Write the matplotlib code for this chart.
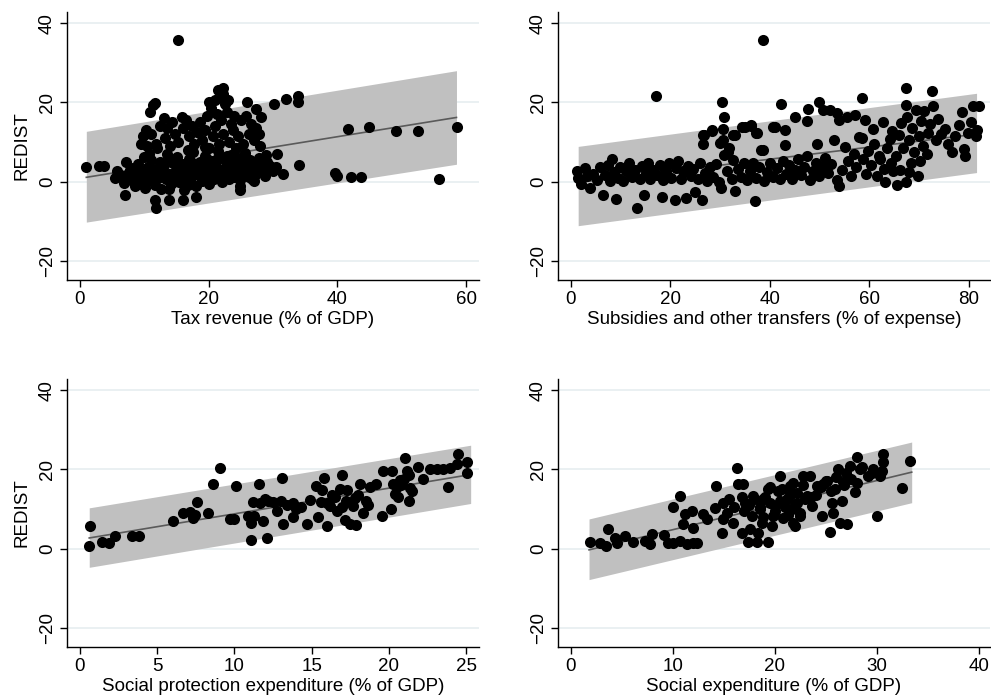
import matplotlib
matplotlib.use("Agg")
import matplotlib.pyplot as plt
import numpy as np

plt.rcParams['font.family'] = ['Liberation Sans', 'DejaVu Sans']

# ---- data (x, REDIST) ----
tax_pts = np.array([
    (1.0, 3.6), (3.0, 3.9), (3.7, 3.9), (15.3, 35.8),
    (7.0, -3.3), (11.6, -4.5), (11.8, -6.6), (13.9, -4.5), (16.0, -4.5), (18.1, -3.9), (24.9, -2.0), (24.8, -1.2),
    (10.9, 17.7), (11.4, 19.4), (11.7, 19.8), (21.5, 23.2), (22.3, 23.6), (25.9, 20.2), (27.3, 18.3), (28.1, 16.3),
    (30.1, 19.6), (32.0, 20.9), (33.9, 21.7), (33.9, 20.1), (30.6, 7.0), (31.5, 1.9), (34.0, 4.3),
    (41.6, 13.3), (44.9, 13.9), (49.1, 12.9), (52.5, 12.8), (58.6, 13.9),
    (39.7, 2.3), (39.9, 1.5), (42.1, 1.3), (43.7, 1.1), (55.8, 0.8), (27.0, 0.1),
    (5.4, 0.9), (5.8, 2.6), (6.9, -0.3), (7.2, 5.0), (7.5, 2.0), (8.0, 0.5), (8.2, 3.5), (8.6, -1.0), (8.9, 1.8),
    (9.1, 4.5), (9.4, 0.0), (9.7, 2.8), (9.9, 6.2), (10.1, -1.5), (10.3, 1.2), (10.6, 3.8), (10.9, 0.3), (11.1, 5.5),
    (11.3, 2.2), (11.6, -0.8), (11.9, 3.2), (12.1, 1.0), (12.4, 5.0), (12.6, -1.8), (12.9, 2.4), (13.1, 4.2),
    (13.4, 0.6), (13.6, 7.0), (13.9, 2.0), (14.1, -0.5), (14.4, 4.8), (14.6, 1.5), (14.9, 3.0), (15.1, 6.3),
    (15.4, 0.0), (15.6, 2.6), (15.9, 4.4), (16.1, -2.0), (16.4, 1.2), (16.6, 3.6), (16.9, 5.8), (17.1, 0.4),
    (17.4, 2.2), (17.6, 7.5), (17.9, 3.8), (18.1, -1.2), (18.4, 1.8), (18.6, 4.9), (18.9, 0.2), (19.1, 2.9),
    (19.4, 6.5), (19.6, 1.0), (19.9, 3.5), (20.1, -0.6), (20.4, 5.2), (20.6, 2.0), (20.9, 0.8), (21.1, 4.0),
    (21.4, 7.8), (21.6, 1.5), (21.9, 3.0), (22.1, -0.2), (22.4, 5.6), (22.6, 2.4), (22.9, 4.4), (23.1, 0.6),
    (23.4, 6.8), (23.6, 2.8), (23.9, 1.2), (24.1, 4.6), (24.4, 3.2), (24.6, 6.0), (24.9, 0.5), (25.1, 2.2),
    (25.4, 4.2), (25.6, 7.2), (25.9, 1.6), (26.1, 3.8), (26.4, 5.4), (26.6, 2.8), (26.9, 4.8), (27.2, 1.8),
    (27.5, 3.4), (27.8, 6.0), (28.1, 2.6), (28.4, 4.2), (28.7, 1.4), (29.0, 5.0), (29.3, 3.0), (29.6, 4.0),
    (30.0, 2.6), (30.4, 3.6), (28.9, 6.8), (26.8, 0.6),
    (6.3, 1.6), (7.8, 3.0), (9.0, -0.6), (10.0, 2.0), (11.5, 0.2), (12.8, 3.6), (14.0, 5.6), (15.0, 1.0),
    (16.2, 3.0), (17.3, 5.0), (18.3, 3.0), (19.3, 0.4), (20.3, 3.0), (21.3, 5.8), (22.3, 1.2), (23.3, 3.8),
    (24.3, 1.8), (25.3, 5.4), (26.3, 1.2), (13.8, -1.8), (16.8, -0.8), (19.8, 5.8), (22.8, 6.6), (10.8, 7.0),
    (9.5, 9.5), (9.8, 11.5), (10.2, 13.0), (10.5, 9.0), (11.0, 12.0), (11.8, 9.5), (12.5, 14.0), (13.0, 16.0),
    (13.3, 11.0), (13.6, 13.5), (14.0, 9.0), (14.3, 15.0), (14.8, 12.0), (15.2, 10.0), (15.8, 16.3), (16.0, 13.5),
    (16.5, 15.5), (17.0, 11.5), (17.4, 14.0), (17.8, 9.5), (18.2, 12.5), (18.6, 15.0), (19.0, 10.5), (19.4, 13.0),
    (19.8, 16.5), (20.1, 8.5), (20.4, 18.5), (20.7, 11.5), (21.0, 14.0), (21.3, 17.0), (21.6, 9.5), (21.9, 15.5),
    (22.2, 12.0), (22.5, 19.5), (22.8, 17.5), (23.1, 10.0), (23.4, 14.5), (23.8, 13.0), (24.2, 8.5), (24.6, 11.5),
    (25.0, 15.5), (25.4, 9.5), (25.8, 16.5), (26.2, 12.0), (26.6, 14.5), (27.0, 10.5), (27.4, 13.5), (27.8, 12.0),
    (28.0, 9.0), (24.0, 16.5), (22.0, 21.0), (21.0, 20.5), (20.0, 20.0), (23.0, 20.5), (22.3, 22.0), (12.0, 8.5),
    (16.8, 8.0), (19.5, 8.8),
])

subs_pts = np.array([
    (1.2, 2.6), (1.4, 0.9), (2.0, -0.5), (2.9, 3.4), (3.3, 1.5), (3.9, -1.6), (4.5, 2.0), (5.2, 0.5), (5.8, 3.6),
    (6.5, -3.4), (6.8, 1.8), (7.4, 4.2), (7.9, 0.2), (8.2, 5.6), (8.6, 2.4), (9.1, -4.4), (9.5, 1.0), (10.0, 3.8),
    (10.6, 0.2), (11.2, 2.6), (11.8, 4.6), (12.3, 1.2), (12.9, 3.0), (13.4, -6.6), (13.9, 0.6), (14.3, 4.0),
    (14.7, -3.3), (15.1, 2.2), (15.6, 4.6), (16.0, 0.8), (16.5, 3.0), (17.1, 21.7), (17.4, 1.6), (17.9, 4.2),
    (18.4, -3.9), (18.6, 0.4), (19.2, 2.8), (19.7, 4.6), (20.2, 1.0), (20.9, -4.5), (21.1, 3.4), (21.6, 5.2),
    (22.1, 0.6), (22.6, 2.6), (23.2, -4.1), (23.6, 4.0), (24.1, 1.4), (24.6, 3.2), (25.0, -2.5), (25.5, 0.8),
    (26.0, 4.8), (26.4, -4.5), (26.5, 11.8), (26.6, 9.4), (26.9, 2.2), (27.4, 0.2), (28.0, 3.6), (28.3, 12.8),
    (28.6, 1.2), (29.2, 4.4), (29.7, -0.2), (30.1, -1.5), (30.4, 20.2), (30.7, 16.2), (30.5, 10.5), (30.8, 6.8),
    (31.3, 2.8), (31.7, 8.4), (32.3, 0.6), (32.6, 5.4), (33.0, -2.3), (33.0, 11.8), (33.6, 3.2), (34.2, 1.2),
    (34.8, 4.6), (35.0, 13.9), (35.5, 0.4), (36.1, 2.6), (36.3, 14.1), (36.7, 4.8), (37.0, -4.8), (37.3, 1.0),
    (37.5, 12.4), (37.9, 3.6), (38.6, 35.8), (38.7, 8.1), (38.9, 0.2), (39.5, 2.4), (40.1, 4.6), (40.7, 1.2),
    (41.0, 13.9), (41.4, 3.4), (42.0, 0.6), (42.2, 19.6), (42.6, 5.2), (43.0, 13.1), (43.1, 9.2), (43.3, 2.0),
    (43.9, 4.2), (44.5, 0.8), (45.0, 16.2), (45.1, 3.0), (45.7, 5.6), (46.3, 1.6), (46.9, 3.8), (47.4, 15.2),
    (47.6, 18.3), (47.5, 6.4), (48.0, 0.4), (48.6, 2.8), (49.2, 4.8), (49.4, 9.4), (49.8, 20.0), (49.9, 1.4),
    (50.5, 3.6), (50.7, 18.1), (51.1, 6.0), (51.7, 2.2), (52.1, 18.1), (52.3, 4.4), (52.9, 10.4), (53.4, 17.3),
    (53.4, 0.4), (53.9, 15.6), (53.9, -1.0), (54.5, 3.0), (55.0, 8.8), (55.4, 16.4), (55.6, 5.2), (56.2, 1.4),
    (56.8, 7.0), (57.1, 16.9), (57.3, 3.6), (57.9, 11.2), (58.5, 10.9), (58.5, 21.0), (58.6, 5.8), (59.1, 15.6),
    (59.2, 2.0), (59.8, 7.8), (60.4, 4.2), (60.8, 13.3), (61.0, 9.6), (61.6, 1.4), (62.2, 5.6), (62.8, 15.0),
    (62.9, 3.2), (63.1, -0.2), (63.5, 8.4), (64.1, 10.8), (64.5, 12.9), (64.8, 2.6), (65.4, 6.6), (65.6, -0.8),
    (66.0, 11.8), (66.3, 14.8), (66.8, 8.6), (67.3, 23.6), (67.3, 19.3), (67.3, -0.1), (67.5, 16.4), (67.9, 10.4),
    (68.3, 4.8), (68.6, 13.6), (69.0, 7.4), (69.3, 18.2), (69.7, 1.5), (69.9, 11.6), (70.3, 15.2), (70.7, 9.0),
    (71.0, 17.8), (71.5, 6.9), (71.8, 12.4), (72.2, 14.6), (72.5, 22.9), (72.7, 19.2), (73.3, 10.6), (73.8, 15.8),
    (74.4, 12.0), (75.2, 13.4), (75.8, 9.4), (76.5, 7.4), (77.2, 11.4), (78.0, 14.4), (78.6, 17.7), (79.0, 8.2),
    (79.2, 6.4), (79.8, 12.2), (80.4, 15.0), (80.8, 19.2), (81.3, 11.4), (81.9, 19.0), (81.6, 13.0),
    (62.0, 6.4), (64.3, 4.6), (66.1, 3.0), (68.0, 2.4), (70.2, 5.2),
    (26.7, 11.8), (28.3, 13.1), (30.6, 13.3), (30.0, 9.7), (31.6, 7.6), (32.6, 11.8), (34.3, 13.9), (36.3, 14.4),
    (37.3, 12.3), (38.2, 8.1), (40.7, 13.9),
])

sp_pts = np.array([
    (0.65, 5.6), (0.6, 0.8), (1.4, 1.6), (1.9, 1.5), (2.3, 3.1), (3.35, 3.3), (3.85, 3.3), (6.04, 7.1),
    (6.65, 9.0), (7.1, 9.2), (7.3, 7.8), (7.55, 11.8), (7.45, 8.4), (8.3, 9.1), (8.6, 16.4), (9.1, 20.3),
    (9.7, 7.6), (10.0, 7.6), (10.1, 15.8), (10.9, 8.2), (11.1, 6.5), (11.3, 8.2), (11.08, 2.3), (11.2, 11.7),
    (11.6, 16.3), (11.66, 11.5), (11.86, 7.0), (12.1, 2.6), (11.98, 12.5), (12.5, 11.7), (13.06, 17.9),
    (12.74, 9.6), (13.17, 6.3), (13.4, 11.0), (13.8, 8.1), (14.3, 10.6), (14.7, 6.3), (14.9, 12.4), (15.3, 15.8),
    (15.4, 8.1), (15.6, 11.9), (15.8, 17.9), (15.98, 5.7), (16.19, 10.7), (16.62, 9.4), (16.84, 15.1),
    (17.0, 18.5), (17.16, 7.3), (17.3, 14.9), (17.5, 6.2), (17.66, 10.7), (17.9, 6.0), (18.13, 16.4),
    (18.35, 9.0), (18.67, 11.1), (18.78, 15.6), (19.17, 16.4), (19.54, 8.2), (19.6, 19.6), (20.14, 9.9),
    (20.18, 19.7), (20.29, 16.2), (20.4, 13.9), (20.73, 17.2), (21.05, 22.9), (21.16, 19.6), (21.33, 12.1),
    (21.37, 15.4), (21.91, 20.6), (22.24, 17.5), (22.67, 20.2), (23.1, 20.0), (23.53, 20.0), (23.86, 15.6),
    (23.96, 20.4), (24.5, 23.8), (24.44, 21.3), (25.04, 21.9), (25.09, 19.2),
    (16.5, 13.0), (17.2, 12.0), (16.0, 11.5), (17.8, 12.8), (18.5, 12.0), (17.0, 10.5), (16.3, 13.5),
    (18.0, 13.5), (15.7, 14.8), (13.0, 12.0), (13.8, 11.5), (12.2, 12.0), (14.0, 10.0), (20.5, 15.5),
    (21.0, 17.5), (20.8, 16.0), (21.3, 18.5), (21.5, 14.5), (20.6, 13.0),
])

se_pts = np.array([
    (1.89, 1.8), (2.87, 1.5), (3.46, 0.8), (3.68, 4.9), (4.34, 2.8), (4.5, 1.4), (5.32, 3.2), (6.13, 1.7),
    (7.28, 1.9), (7.77, 1.1), (7.93, 3.6), (9.14, 3.4), (9.56, 1.5), (10.05, 1.4), (10.7, 13.3), (10.7, 1.9),
    (11.19, 8.7), (11.03, 6.2), (11.36, 1.3), (11.85, 9.5), (12.01, 5.3), (12.01, 1.4), (12.34, 1.5), (10.05, 10.5),
    (12.99, 8.85), (13.32, 7.42), (14.2, 15.86), (14.13, 10.37), (14.78, 4.04), (14.88, 11.63), (14.95, 7.42),
    (15.28, 9.1), (15.93, 6.58), (16.25, 20.3), (16.42, 16.28), (16.74, 4.04), (16.9, 16.28), (17.07, 11.63),
    (17.4, 1.77), (17.56, 4.88), (17.72, 8.26), (17.89, 13.33), (18.21, 1.77), (18.38, 4.04), (18.54, 9.95),
    (18.7, 6.58), (18.87, 12.49), (19.36, 1.77), (19.52, 15.44), (19.68, 5.73), (19.85, 8.26), (20.01, 10.79),
    (20.5, 18.4), (20.66, 15.02), (20.83, 7.84), (21.15, 12.49), (21.48, 15.86), (21.64, 9.95), (21.81, 6.58),
    (21.97, 5.73), (22.13, 11.63), (22.46, 8.26), (22.78, 18.4), (23.11, 13.33), (23.44, 18.4), (23.6, 10.79),
    (24.09, 15.86), (24.58, 8.26), (24.74, 16.28), (25.07, 17.13), (25.4, 4.29), (25.56, 11.63), (25.72, 9.1),
    (25.89, 15.02), (26.21, 20.1), (26.38, 6.58), (26.54, 12.07), (26.7, 16.7), (27.03, 6.16), (27.36, 20.9),
    (27.85, 14.18), (28.01, 23.0), (28.33, 20.1), (29.15, 18.4), (29.64, 20.2), (29.97, 8.26), (30.3, 18.4),
    (30.62, 23.9), (30.62, 21.8), (32.42, 15.4), (33.23, 22.2),
    (17.5, 11.0), (18.0, 12.5), (18.5, 10.5), (19.0, 13.0), (19.5, 11.5), (20.0, 9.5), (20.5, 12.0), (21.0, 10.5),
    (21.5, 13.5), (22.0, 11.0), (22.5, 9.0), (23.0, 12.5), (17.0, 9.5), (16.0, 10.5), (15.5, 12.5), (18.8, 8.0),
    (20.3, 14.5), (21.3, 8.5), (22.2, 14.0), (19.3, 15.0), (16.8, 13.0), (21.8, 16.5), (23.5, 13.0), (24.5, 15.5),
    (25.0, 17.0), (26.0, 18.0), (27.0, 19.0), (28.5, 20.5), (29.5, 19.0), (30.5, 19.5), (26.8, 16.0), (27.5, 17.5),
    (24.0, 13.5), (25.5, 14.5), (28.0, 16.5), (22.8, 16.0),
])

# fitted line and prediction band endpoints: [x_start, x_end]
tax_band_x, tax_fit, tax_lo, tax_hi = [1.0, 58.5], [1.1, 16.2], [-10.2, 4.4], [12.7, 28.0]
subs_band_x, subs_fit, subs_lo, subs_hi = [1.5, 81.5], [-0.2, 12.0], [-11.1, 2.3], [8.9, 22.3]
sp_band_x, sp_fit, sp_lo, sp_hi = [0.6, 25.3], [2.7, 18.7], [-4.7, 11.4], [10.3, 26.1]
se_band_x, se_fit, se_lo, se_hi = [1.8, 33.4], [-0.3, 19.3], [-7.8, 11.6], [7.5, 26.9]

panels = [
    ("Tax revenue (% of GDP)", tax_pts, tax_band_x, tax_fit, tax_lo, tax_hi,
     (-2.0, 62.0), [0, 20, 40, 60], True, [67, 280, 412]),
    ("Subsidies and other transfers (% of expense)", subs_pts, subs_band_x, subs_fit, subs_lo, subs_hi,
     (-2.55, 84.2), [0, 20, 40, 60, 80], False, [558, 280, 432]),
    ("Social protection expenditure (% of GDP)", sp_pts, sp_band_x, sp_fit, sp_lo, sp_hi,
     (-0.84, 25.84), [0, 5, 10, 15, 20, 25], True, [67, 647, 412]),
    ("Social expenditure (% of GDP)", se_pts, se_band_x, se_fit, se_lo, se_hi,
     (-1.24, 41.07), [0, 10, 20, 30, 40], False, [558, 647, 432]),
]

W, H = 991, 697
fig = plt.figure(figsize=(W / 100, H / 100), dpi=100)
fig.patch.set_facecolor("white")

for label, pts, bx, fit, lo, hi, xlim, xticks, left, (px, pb, pw) in panels:
    ax = fig.add_axes([px / W, 1 - pb / H, pw / W, 268 / H])
    ax.set_xlim(*xlim)
    ax.set_ylim(-24.8, 42.8)
    for yv in [-20, 0, 20, 40]:
        ax.axhline(yv, color="#e6eef0", lw=1.2, zorder=0)
    ax.fill_between(bx, lo, hi, color="#c0c0c0", lw=0, zorder=1)
    ax.plot(bx, fit, color="#5a5a5a", lw=1.2, zorder=2)
    ax.scatter(pts[:, 0], pts[:, 1], s=64, color="black", lw=0, zorder=3)

    ax.set_xticks(xticks)
    ax.set_yticks([-20, 0, 20, 40])
    ax.set_yticklabels(["\u221220", "0", "20", "40"], rotation=90, va="center")
    ax.tick_params(direction="out", length=5, width=1, labelsize=13.5, pad=3)
    for side in ("top", "right"):
        ax.spines[side].set_visible(False)
    for side in ("left", "bottom"):
        ax.spines[side].set_linewidth(1)
    ax.set_xlabel(label, fontsize=13.5, labelpad=2)
    if left:
        ax.set_ylabel("REDIST", fontsize=13.5, labelpad=6)

fig.savefig("out.png", dpi=100)
